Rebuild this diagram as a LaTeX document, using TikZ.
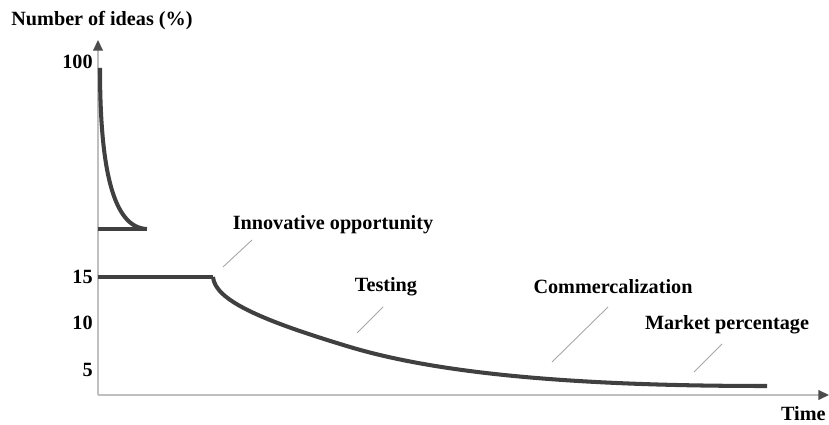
\documentclass[tikz,border=0pt]{standalone}
\usepackage{fontspec}
\setmainfont{Liberation Serif}
\usetikzlibrary{positioning,arrows.meta}

\begin{document}
\begin{tikzpicture}[x=0.02cm, y=-0.02cm,
  lbl/.style={font=\bfseries\fontsize{11.5}{13}\selectfont, inner sep=0pt},
  axis/.style={draw=black!25, line width=0.8pt, -{Triangle[length=6pt, width=5.5pt, color=black!70]}},
  curve/.style={draw=black!75, line width=2.3pt},
  leader/.style={draw=black!35, line width=0.5pt}]
\useasboundingbox (0,0) rectangle (829,425);

\def\xo{98}
\def\yo{395}

% axes
\coordinate (o) at (\xo, \yo);
\coordinate (ytop) at (\xo, 40);
\coordinate (xend) at (829, \yo);
\draw[axis] (o) -- (ytop);
\draw[axis] (o) -- (xend);

\node[lbl] (ylab) at (102, 21) {Number of ideas (\%)};
\node[lbl, anchor=east] (t100) at (93, 62) {100};
\node[lbl, anchor=east] (t15) at (93, 277) {15};
\node[lbl, anchor=east] (t10) at (93, 323) {10};
\node[lbl, anchor=east] (t5) at (93, 370) {5};
\node[lbl, anchor=east] (xlab) at (826, 414) {Time};

% first drop
\coordinate (a) at (100, 68);
\coordinate (b) at (147, 229);
\coordinate (c) at (\xo, 229);
\draw[curve] (a) .. controls (100, 165) and (112, 228) .. (b);
\draw[curve] (c) -- (b);

% second drop
\coordinate (d) at (\xo, 277);
\coordinate (e) at (213, 277);
\coordinate (f) at (350, 347);
\coordinate (g) at (767, 386);
\draw[curve] (d) -- (e);
\draw[curve] (e) .. controls (215, 300) and (260, 320) .. (f)
             .. controls (450, 377) and (600, 386) .. (g);

% stages
\node[lbl] (inno) at (333, 225) {Innovative opportunity};
\node[lbl] (test) at (386, 287) {Testing};
\node[lbl] (comm) at (613, 287) {Commercalization};
\node[lbl] (mark) at (727, 325) {Market percentage};

\coordinate (i1) at (223, 267);
\coordinate (i2) at (252, 240);
\coordinate (t1) at (357, 333);
\coordinate (t2) at (383, 307);
\coordinate (c1) at (552, 362);
\coordinate (c2) at (608, 307);
\coordinate (m1) at (694, 372);
\coordinate (m2) at (722, 344);
\draw[leader] (i1) -- (i2);
\draw[leader] (t1) -- (t2);
\draw[leader] (c1) -- (c2);
\draw[leader] (m1) -- (m2);
\end{tikzpicture}
\end{document}
